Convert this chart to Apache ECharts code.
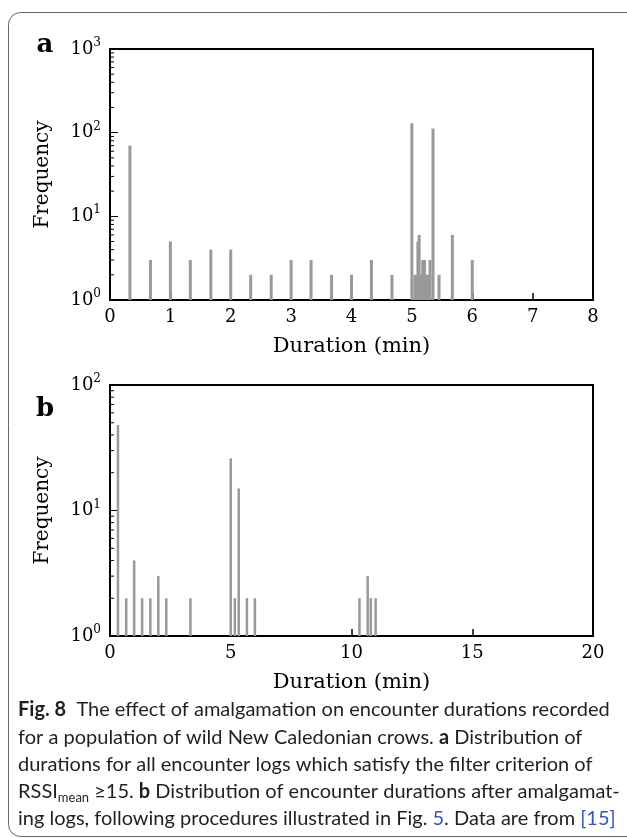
<!DOCTYPE html>
<html><head><meta charset="utf-8">
<script src="https://cdn.jsdelivr.net/npm/echarts@6/dist/echarts.min.js"></script>
<style>html,body{margin:0;padding:0;background:#fff}#c{width:627px;height:838px}</style>
</head><body><div id="c"></div>
<script>
// ---- data ----
// Panel a: all encounter logs (RSSI_mean >= 15)
const durationsA = [0.33, 0.67, 1.0, 1.33, 1.67, 2.0, 2.33, 2.67, 3.0, 3.33, 3.67, 4.0, 4.33, 4.67,
                    5.0, 5.05, 5.08, 5.10, 5.12, 5.15, 5.18, 5.21, 5.24, 5.27, 5.30, 5.35, 5.45, 5.67, 6.0];
const countsA    = [70, 3, 5, 3, 4, 4, 2, 2, 3, 3, 2, 2, 3, 2,
                    130, 2, 2, 5, 6, 2, 3, 3, 2, 2, 3, 112, 2, 6, 3];
// Panel b: after amalgamating logs
const durationsB = [0.33, 0.67, 1.0, 1.33, 1.67, 2.0, 2.33, 3.33, 5.0, 5.17, 5.33, 5.67, 6.0, 10.33, 10.67, 10.8, 11.0];
const countsB    = [48, 2, 4, 2, 2, 3, 2, 2, 26, 2, 15, 2, 2, 2, 3, 2, 2];

// axes
const xRangeA = [0, 8], xStepA = 1;
const xRangeB = [0, 20], xStepB = 5;
const yRangeA = [1, 1000];
const yRangeB = [1, 100];
const minorTicksA = [2,3,4,5,6,7,8,9, 20,30,40,50,60,70,80,90, 200,300,400,500,600,700,800,900];
const minorTicksB = [2,3,4,5,6,7,8,9, 20,30,40,50,60,70,80,90];

const xTitle = 'Duration (min)';
const yTitle = 'Frequency';
const panelLetters = ['a', 'b'];
const captionLines = [
  '{b|Fig. 8}  The effect of amalgamation on encounter durations recorded',
  'for a population of wild New Caledonian crows. {b|a} Distribution of',
  'durations for all encounter logs which satisfy the filter criterion of',
  'RSSI{sub|mean} \u226515. {b|b} Distribution of encounter durations after amalgamat-',
  'ing logs, following procedures illustrated in Fig. {l|5}. Data are from {l|[15]}'
];

// ---- chart ----
const serif = 'DejaVu Serif';
const sans = 'Lato';
const grids = [
  {left: 110, top: 49, width: 483, height: 251},
  {left: 110, top: 385, width: 483, height: 251}
];

function logLabel(v) {
  const e = Math.round(Math.log10(v));
  return '{b|10}{s|' + e + '}';
}
function yAxisCfg(idx, range) {
  return {
    type: 'log', logBase: 10, gridIndex: idx, min: range[0], max: range[1],
    name: yTitle, nameLocation: 'middle', nameGap: 57,
    nameTextStyle: {fontFamily: serif, fontSize: 20, color: '#000'},
    axisLine: {show: true, lineStyle: {color: '#000', width: 2}},
    axisTick: {show: true, inside: true, length: 8, lineStyle: {color: '#000', width: 1}},
    splitLine: {show: false},
    axisLabel: {
      margin: 9, formatter: logLabel, color: '#000',
      rich: {
        b: {fontFamily: serif, fontSize: 18, color: '#000'},
        s: {fontFamily: serif, fontSize: 12, color: '#000', padding: [0, 0, 12, 0]}
      }
    }
  };
}
function xAxisCfg(idx, range, step) {
  return {
    type: 'value', gridIndex: idx, min: range[0], max: range[1], interval: step,
    name: xTitle, nameLocation: 'middle', nameGap: 36,
    nameTextStyle: {fontFamily: serif, fontSize: 21, color: '#000'},
    axisLine: {show: true, lineStyle: {color: '#000', width: 2}},
    axisTick: {show: true, inside: true, length: 7, lineStyle: {color: '#000', width: 1.5}},
    splitLine: {show: false},
    axisLabel: {margin: 8, fontFamily: serif, fontSize: 18, color: '#000'}
  };
}
function barSeries(idx, xs, ys, w) {
  return {
    type: 'bar', xAxisIndex: idx, yAxisIndex: idx, barWidth: w, silent: true,
    itemStyle: {color: '#999999'},
    data: xs.map((x, i) => [x, ys[i]])
  };
}
function minorSeries(idx, ticks, x0) {
  return {
    type: 'custom', xAxisIndex: idx, yAxisIndex: idx, silent: true, clip: false, z: 5,
    data: ticks.map(v => [x0, v]),
    renderItem(params, api) {
      const p = api.coord([api.value(0), api.value(1)]);
      return {type: 'line', shape: {x1: p[0], y1: p[1], x2: p[0] + 4, y2: p[1]},
              style: {stroke: '#000', lineWidth: 1}};
    }
  };
}

const graphics = [
  {type: 'rect', shape: {x: 8.5, y: 12.5, width: 700, height: 824, r: 12},
   style: {fill: 'none', stroke: '#666', lineWidth: 1}, silent: true, z: -1},
  {type: 'text', x: 45, y: 45, style: {text: panelLetters[0], font: 'bold 26px "DejaVu Serif"', fill: '#000', align: 'center', verticalAlign: 'middle'}},
  {type: 'text', x: 45, y: 409, style: {text: panelLetters[1], font: 'bold 26px "DejaVu Serif"', fill: '#000', align: 'center', verticalAlign: 'middle'}}
];
const capY = [710, 737.5, 765, 792, 819];
captionLines.forEach((t, i) => {
  graphics.push({
    type: 'text', x: 18, y: capY[i],
    style: {
      text: t, fontFamily: sans, fontSize: 20, fill: '#231f20', align: 'left', verticalAlign: 'middle',
      rich: {
        b: {fontFamily: sans, fontSize: 20, fontWeight: 'bold', fill: '#231f20'},
        l: {fontFamily: sans, fontSize: 20, fill: '#3557b7'},
        sub: {fontFamily: sans, fontSize: 13, fill: '#231f20', padding: [11, 0, 0, 0]}
      }
    }
  });
});

const option = {
  animation: false,
  backgroundColor: '#fff',
  grid: grids.map(g => Object.assign({show: true, borderColor: '#000', borderWidth: 2, backgroundColor: 'transparent'}, g)),
  xAxis: [xAxisCfg(0, xRangeA, xStepA), xAxisCfg(1, xRangeB, xStepB)],
  yAxis: [yAxisCfg(0, yRangeA), yAxisCfg(1, yRangeB)],
  series: [
    barSeries(0, durationsA, countsA, 3),
    barSeries(1, durationsB, countsB, 2.5),
    minorSeries(0, minorTicksA, xRangeA[0]),
    minorSeries(1, minorTicksB, xRangeB[0])
  ],
  graphic: graphics
};
const chart = echarts.init(document.getElementById('c'));
chart.setOption(option);
</script>
</body></html>
